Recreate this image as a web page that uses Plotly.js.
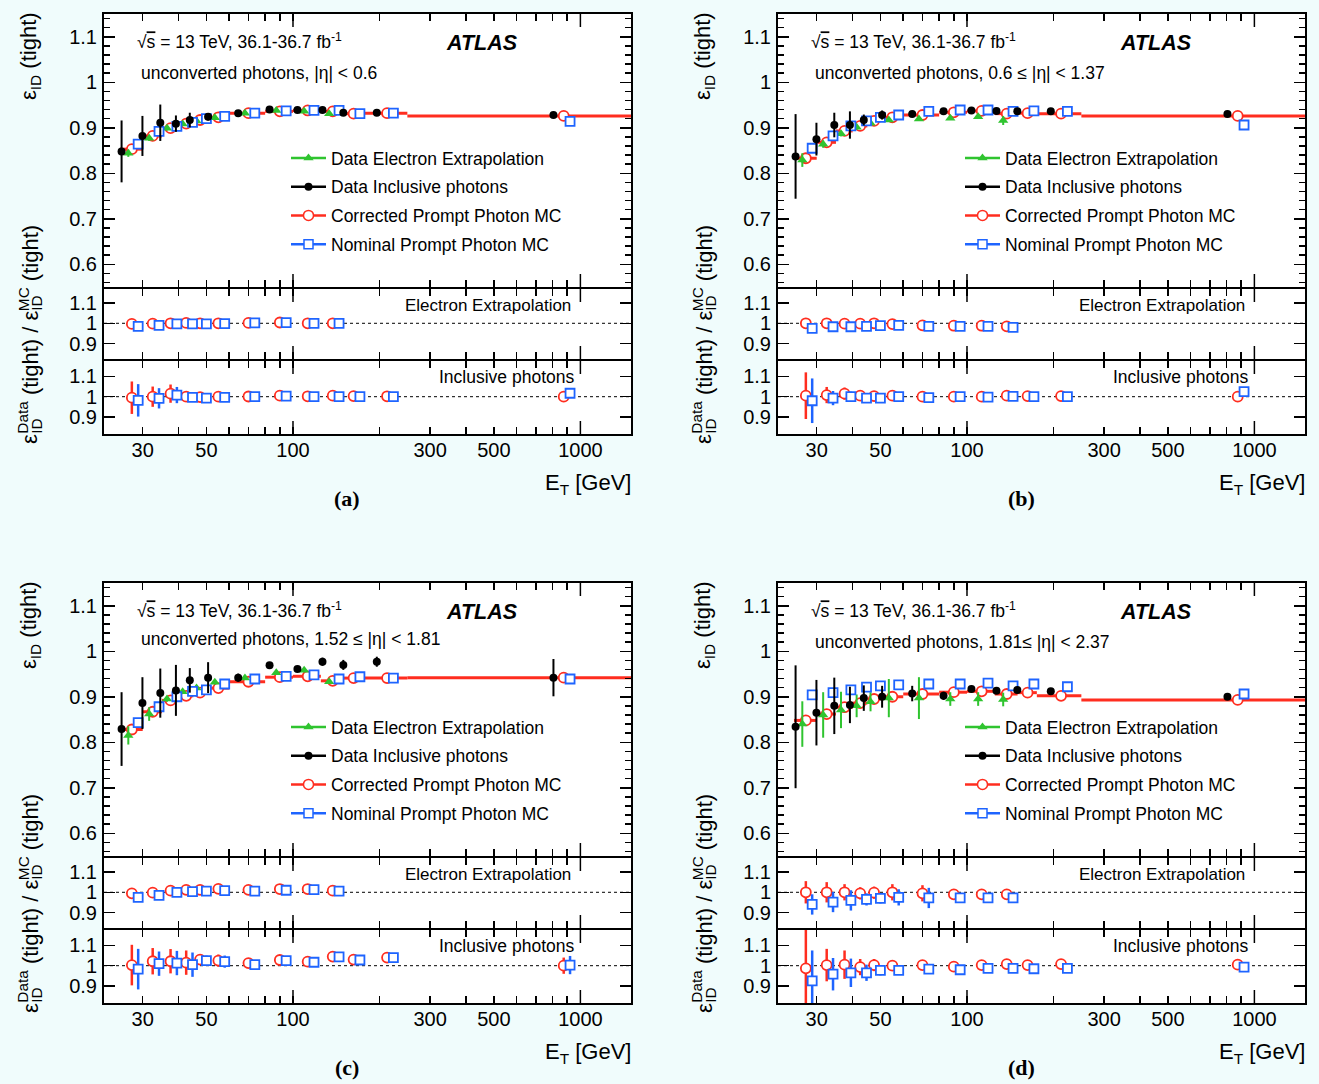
<!DOCTYPE html>
<html><head><meta charset="utf-8">
<script src="https://cdn.plot.ly/plotly-3.0.1.min.js"></script>
<style>html,body{margin:0;padding:0;background:#f0fcfc;} #chart{width:1319px;height:1084px;}</style>
</head><body><div id="chart"></div>
<script>
// ---------------- data ----------------
const binEdges = [25,30,35,40,45,50,60,80,100,125,150,175,250,1500];
const panelTags = ['(a)','(b)','(c)','(d)'];
const regionText = ['unconverted photons, |η| < 0.6','unconverted photons, 0.6 ≤ |η| < 1.37','unconverted photons, 1.52 ≤ |η| < 1.81','unconverted photons, 1.81≤ |η| < 2.37'];
const seriesNames = ['Data Electron Extrapolation','Data Inclusive photons','Corrected Prompt Photon MC','Nominal Prompt Photon MC'];
const xTickVals = [30,50,100,300,500,1000];
const xTickText = ['30','50','100','300','500','1000'];
const xMinorVals = [40,60,70,80,90,200,400,600,700,800,900];
const mainTickVals = [0.6,0.7,0.8,0.9,1.0,1.1];
const mainTickText = ['0.6','0.7','0.8','0.9','1','1.1'];
const ratioTickVals = [0.9,1.0,1.1];
const ratioTickText = ['0.9','1','1.1'];

// panel (a)
const aEle = [0.844,0.877,0.899,0.908,0.915,0.922,0.932,0.938,0.936,0.931];
const aEleErr = [0.008,0.006,0.005,0.004,0.004,0.003,0.003,0.003,0.003,0.003];
const aIncl = [0.848,0.882,0.911,0.909,0.917,0.924,0.932,0.940,0.939,0.939,0.933,0.933,0.928];
const aInclErr = [0.068,0.044,0.040,0.018,0.016,0.008,0.004,0.004,0.003,0.003,0.003,0.003,0.003];
const aCorr = [0.853,0.882,0.899,0.909,0.917,0.923,0.932,0.936,0.938,0.936,0.931,0.932,0.926];
const aNom = [0.864,0.892,0.903,0.912,0.920,0.925,0.932,0.937,0.938,0.938,0.931,0.932,0.914];
const aEleRatioCorr = [0.997,0.998,1.000,1.002,1.000,1.000,1.002,1.004,1.000,1.000];
const aEleRatioCorrErr = [0.008,0.007,0.006,0.006,0.005,0.005,0.005,0.005,0.005,0.005];
const aEleRatioNom = [0.985,0.990,0.997,0.997,0.997,0.998,1.002,1.003,1.000,1.000];
const aEleRatioNomErr = [0.009,0.008,0.007,0.006,0.006,0.005,0.005,0.005,0.005,0.005];
const aInclRatioCorr = [0.995,1.000,1.015,1.000,0.998,1.000,1.001,1.005,1.002,1.005,1.003,1.002,1.000];
const aInclRatioCorrErr = [0.080,0.050,0.045,0.020,0.018,0.010,0.005,0.005,0.004,0.004,0.004,0.004,0.004];
const aInclRatioNom = [0.982,0.992,1.008,0.997,0.993,0.997,1.000,1.003,1.000,1.000,1.000,1.000,1.017];
const aInclRatioNomErr = [0.080,0.050,0.040,0.020,0.018,0.010,0.005,0.005,0.004,0.004,0.004,0.004,0.004];

// panel (b)
const bEle = [0.829,0.864,0.887,0.901,0.910,0.917,0.919,0.921,0.924,0.916];
const bEleErr = [0.015,0.008,0.006,0.005,0.004,0.004,0.004,0.004,0.004,0.010];
const bIncl = [0.837,0.875,0.906,0.906,0.917,0.928,0.930,0.936,0.938,0.937,0.936,0.936,0.930];
const bInclErr = [0.093,0.036,0.027,0.030,0.012,0.010,0.004,0.003,0.003,0.003,0.003,0.003,0.003];
const bCorr = [0.833,0.868,0.893,0.904,0.915,0.923,0.928,0.934,0.937,0.931,0.932,0.931,0.926];
const bNom = [0.855,0.882,0.904,0.915,0.923,0.928,0.936,0.939,0.939,0.936,0.937,0.936,0.906];
const bEleRatioCorr = [1.000,1.000,0.998,0.998,1.000,0.996,0.990,0.988,0.988,0.985];
const bEleRatioCorrErr = [0.008,0.007,0.006,0.006,0.005,0.005,0.005,0.005,0.005,0.005];
const bEleRatioNom = [0.975,0.983,0.983,0.985,0.988,0.990,0.985,0.985,0.985,0.980];
const bEleRatioNomErr = [0.010,0.009,0.008,0.007,0.006,0.006,0.006,0.006,0.006,0.006];
const bInclRatioCorr = [1.005,1.008,1.015,1.005,1.003,1.005,1.000,1.000,1.000,1.005,1.003,1.003,1.000];
const bInclRatioCorrErr = [0.115,0.040,0.030,0.025,0.012,0.010,0.004,0.004,0.004,0.004,0.004,0.004,0.004];
const bInclRatioNom = [0.980,0.993,1.000,0.993,0.993,1.000,0.995,1.000,0.998,1.002,1.000,1.000,1.025];
const bInclRatioNomErr = [0.110,0.035,0.025,0.020,0.012,0.010,0.004,0.004,0.004,0.004,0.004,0.004,0.004];

// panel (c)
const cEle = [0.815,0.862,0.895,0.911,0.919,0.932,0.941,0.953,0.958,0.933];
const cEleErr = [0.020,0.015,0.006,0.005,0.005,0.005,0.004,0.004,0.004,0.004];
const cIncl = [0.829,0.886,0.908,0.914,0.936,0.942,0.942,0.969,0.961,0.977,0.970,0.977,0.942];
const cInclErr = [0.081,0.057,0.054,0.056,0.027,0.034,0.009,0.006,0.006,0.009,0.011,0.011,0.041];
const cCorr = [0.828,0.867,0.892,0.902,0.909,0.919,0.933,0.943,0.945,0.935,0.941,0.941,0.942];
const cNom = [0.843,0.878,0.900,0.912,0.915,0.928,0.939,0.945,0.948,0.939,0.944,0.941,0.939];
const cEleRatioCorr = [0.995,0.998,1.008,1.012,1.012,1.017,1.012,1.016,1.016,1.008];
const cEleRatioCorrErr = [0.010,0.009,0.008,0.007,0.007,0.007,0.006,0.006,0.006,0.006];
const cEleRatioNom = [0.975,0.985,1.000,1.003,1.006,1.008,1.006,1.010,1.013,1.006];
const cEleRatioNomErr = [0.012,0.010,0.009,0.008,0.008,0.008,0.007,0.007,0.007,0.007];
const cInclRatioCorr = [1.003,1.022,1.022,1.015,1.030,1.025,1.013,1.028,1.020,1.045,1.030,1.040,1.000];
const cInclRatioCorrErr = [0.100,0.065,0.060,0.060,0.020,0.030,0.008,0.006,0.006,0.008,0.010,0.012,0.040];
const cInclRatioNom = [0.983,1.010,1.013,1.005,1.025,1.020,1.005,1.025,1.017,1.043,1.028,1.040,1.003];
const cInclRatioNomErr = [0.100,0.060,0.060,0.060,0.025,0.030,0.008,0.008,0.008,0.010,0.012,0.015,0.045];

// panel (d)
const dEle = [0.840,0.860,0.871,0.880,0.889,0.897,0.897,0.895,0.895,0.894];
const dEleErr = [0.050,0.050,0.040,0.025,0.021,0.042,0.046,0.015,0.015,0.015];
const dIncl = [0.834,0.865,0.880,0.882,0.897,0.900,0.907,0.902,0.917,0.913,0.915,0.912,0.900];
const dInclErr = [0.135,0.072,0.062,0.040,0.028,0.024,0.017,0.009,0.005,0.005,0.005,0.004,0.004];
const dCorr = [0.848,0.862,0.877,0.886,0.895,0.900,0.906,0.910,0.912,0.906,0.909,0.902,0.893];
const dNom = [0.904,0.909,0.915,0.921,0.924,0.926,0.928,0.928,0.930,0.924,0.928,0.922,0.906];
const dEleRatioCorr = [1.000,1.000,1.000,0.995,0.998,1.000,0.995,0.990,0.990,0.990];
const dEleRatioCorrErr = [0.055,0.050,0.040,0.030,0.030,0.040,0.040,0.012,0.012,0.012];
const dEleRatioNom = [0.940,0.952,0.960,0.965,0.970,0.975,0.972,0.972,0.972,0.972];
const dEleRatioNomErr = [0.050,0.050,0.050,0.030,0.025,0.040,0.050,0.012,0.015,0.012];
const dInclRatioCorr = [0.987,1.003,1.005,0.993,1.003,1.000,1.003,0.995,1.003,1.008,1.003,1.008,1.005];
const dInclRatioCorrErr = [0.190,0.080,0.070,0.040,0.030,0.025,0.006,0.006,0.006,0.006,0.006,0.006,0.006];
const dInclRatioNom = [0.925,0.958,0.965,0.965,0.977,0.977,0.983,0.980,0.987,0.987,0.985,0.987,0.993];
const dInclRatioNomErr = [0.150,0.080,0.070,0.040,0.025,0.020,0.006,0.006,0.006,0.006,0.006,0.006,0.006];

const panels = [
  {ele:aEle, eleErr:aEleErr, incl:aIncl, inclErr:aInclErr, corr:aCorr, nom:aNom,
   rEC:aEleRatioCorr, rECe:aEleRatioCorrErr, rEN:aEleRatioNom, rENe:aEleRatioNomErr,
   rIC:aInclRatioCorr, rICe:aInclRatioCorrErr, rIN:aInclRatioNom, rINe:aInclRatioNomErr},
  {ele:bEle, eleErr:bEleErr, incl:bIncl, inclErr:bInclErr, corr:bCorr, nom:bNom,
   rEC:bEleRatioCorr, rECe:bEleRatioCorrErr, rEN:bEleRatioNom, rENe:bEleRatioNomErr,
   rIC:bInclRatioCorr, rICe:bInclRatioCorrErr, rIN:bInclRatioNom, rINe:bInclRatioNomErr},
  {ele:cEle, eleErr:cEleErr, incl:cIncl, inclErr:cInclErr, corr:cCorr, nom:cNom,
   rEC:cEleRatioCorr, rECe:cEleRatioCorrErr, rEN:cEleRatioNom, rENe:cEleRatioNomErr,
   rIC:cInclRatioCorr, rICe:cInclRatioCorrErr, rIN:cInclRatioNom, rINe:cInclRatioNomErr},
  {ele:dEle, eleErr:dEleErr, incl:dIncl, inclErr:dInclErr, corr:dCorr, nom:dNom,
   rEC:dEleRatioCorr, rECe:dEleRatioCorrErr, rEN:dEleRatioNom, rENe:dEleRatioNomErr,
   rIC:dInclRatioCorr, rICe:dInclRatioCorrErr, rIN:dInclRatioNom, rINe:dInclRatioNomErr}
];

// ---------------- style / geometry ----------------
const W = 1319, H = 1084;
const BG = '#f0fcfc';
const FONT = 'Liberation Sans, Arial, Helvetica, sans-serif';
const GREEN = '#2fc42f', BLACK = '#000000', RED = '#ff2d1f', BLUE = '#1e64ff';
const shiftEle = 0.972, shiftIncl = 0.921, shiftNom = 1.052;   // horizontal display offsets
const colL = [104, 778], colR = [631, 1305];
const rowFrames = [
  [[14,287],[289,359],[361,434]],
  [[583,856],[858,928],[930,1003]]
];
const yRanges = [[0.55,1.15],[0.824,1.169],[0.816,1.176]];

const centers = binEdges.slice(0,-1).map((lo,i)=>(lo+binEdges[i+1])/2);
const errPlus = centers.map((c,i)=>binEdges[i+1]-c);
const errMinus = centers.map((c,i)=>c-binEdges[i]);
const nEle = aEle.length;
const cEleX = centers.slice(0,nEle);

const px = x => x / W;
const py = y => 1 - y / H;
const cnv = document.createElement('canvas').getContext('2d');
function tw(t, size){ cnv.font = size + 'px "Liberation Sans"'; return cnv.measureText(t).width; }

const traces = [];
const layout = {
  width: W, height: H, margin:{l:0,r:0,t:0,b:0},
  paper_bgcolor: BG, plot_bgcolor: '#ffffff',
  font:{family:FONT, color:'#000'},
  showlegend: true, annotations: [], shapes: []
};

function ann(o){ layout.annotations.push(Object.assign({xref:'paper', yref:'paper', showarrow:false, borderpad:0}, o)); }

function ratioTitle(cx, bottom){
  const S = 22, s = 15.4;
  let y = bottom;
  const put = (t, size, xoff) => ann({text:t, textangle:-90, x:px(cx+xoff), y:py(y), xanchor:'center', yanchor:'bottom', font:{family:FONT, size:size, color:'#000'}});
  const main = t => { put(t, S, 0); y -= tw(t, S); };
  const stack = (sup, sub) => { put(sup, s, -7); put(sub, s, 7); y -= Math.max(tw(sup, s), tw(sub, s)); };
  const space = () => { y -= tw(' ', S) * 1.0; };
  main('ε'); stack('Data','ID'); space(); main('(tight) / ε'); stack('MC','ID'); space(); main('(tight)');
}

for (let p = 0; p < 4; p++) {
  const P = panels[p];
  const col = p % 2, row = Math.floor(p / 2);
  const dx = colL[col] - colL[0];
  const dy = row * 569;
  const legName = p === 0 ? 'legend' : 'legend' + (p + 1);
  const ax = [];
  for (let s = 0; s < 3; s++) {
    const k = p * 3 + s + 1;
    const suf = k === 1 ? '' : String(k);
    const xa = 'x' + suf, ya = 'y' + suf;
    ax.push({xa, ya});
    const [top, bot] = rowFrames[row][s];
    const hpx = bot - top;
    layout['xaxis' + suf] = {
      domain:[px(colL[col]), px(colR[col])], anchor: ya, type:'log',
      range:[Math.log10(22), Math.log10(1500)],
      tickmode:'array', tickvals:xTickVals, ticktext:xTickText,
      showticklabels: s === 2, ticks:'inside', ticklen:7, tickwidth:1.5, tickcolor:'#000',
      minor:{tickmode:'array', tickvals:xMinorVals, ticks:'inside', ticklen:7, tickwidth:1.5, tickcolor:'#000', showgrid:false},
      showline:true, linewidth:2, linecolor:'#000', mirror:'ticks',
      showgrid:false, zeroline:false, fixedrange:true,
      tickfont:{family:FONT, size:20, color:'#000'}, ticklabelstandoff: -3
    };
    const yax = {
      domain:[py(bot), py(top)], anchor: xa, range: yRanges[s],
      tickmode:'array',
      tickvals: s === 0 ? mainTickVals : ratioTickVals,
      ticktext: s === 0 ? mainTickText : ratioTickText,
      ticks:'inside', ticklen:11, tickwidth:1.5, tickcolor:'#000',
      showline:true, linewidth:2, linecolor:'#000', mirror:'ticks',
      showgrid:false, zeroline:false, fixedrange:true,
      tickfont:{family:FONT, size:20, color:'#000'}, ticklabelstandoff: 1
    };
    if (s === 0) yax.minor = {dtick:0.02, tick0:0, ticks:'inside', ticklen:6, tickwidth:1.5, tickcolor:'#000', showgrid:false};
    layout['yaxis' + suf] = yax;
    // long ticks at decades
    [100, 1000].forEach(v => {
      layout.shapes.push({type:'line', xref:xa, yref:ya + ' domain', x0:v, x1:v, y0:0, y1:13/hpx, line:{color:'#000', width:1.5}});
      layout.shapes.push({type:'line', xref:xa, yref:ya + ' domain', x0:v, x1:v, y0:1, y1:1-13/hpx, line:{color:'#000', width:1.5}});
    });
    if (s > 0) layout.shapes.push({type:'line', layer:'below', xref:xa + ' domain', yref:ya, x0:0, x1:1, y0:1, y1:1, line:{color:'#000', width:1, dash:'3px,3px'}});
  }
  const M = ax[0], R1 = ax[1], R2 = ax[2];

  // main panel
  traces.push({type:'scatter', mode:'markers', xaxis:M.xa, yaxis:M.ya, showlegend:false, hoverinfo:'skip',
    x:centers, y:P.corr,
    error_x:{type:'data', symmetric:false, array:errPlus, arrayminus:errMinus, color:RED, thickness:3, width:0},
    marker:{symbol:'circle', size:10, color:'#fff', line:{color:RED, width:1.8}}});
  traces.push({type:'scatter', mode:'markers', xaxis:M.xa, yaxis:M.ya, showlegend:false, hoverinfo:'skip',
    x:cEleX.map(c=>c*shiftEle), y:P.ele,
    error_y:{type:'data', array:P.eleErr, color:GREEN, thickness:2, width:0},
    marker:{symbol:'triangle-up', size:9, color:GREEN}});
  traces.push({type:'scatter', mode:'markers', xaxis:M.xa, yaxis:M.ya, showlegend:false, hoverinfo:'skip',
    x:centers.map(c=>c*shiftNom), y:P.nom,
    marker:{symbol:'square', size:9, color:'#fff', line:{color:BLUE, width:1.8}}});
  traces.push({type:'scatter', mode:'markers', xaxis:M.xa, yaxis:M.ya, showlegend:false, hoverinfo:'skip',
    x:centers.map(c=>c*shiftIncl), y:P.incl,
    error_y:{type:'data', array:P.inclErr, color:BLACK, thickness:2, width:0},
    marker:{symbol:'circle', size:8, color:BLACK}});

  // legend entries
  const legStyles = [
    {line:{color:GREEN, width:2.5}, marker:{symbol:'triangle-up', size:9, color:GREEN}},
    {line:{color:BLACK, width:2.5}, marker:{symbol:'circle', size:8, color:BLACK}},
    {line:{color:RED, width:2.5}, marker:{symbol:'circle', size:10, color:'#fff', line:{color:RED, width:1.5}}},
    {line:{color:BLUE, width:2.5}, marker:{symbol:'square', size:9, color:'#fff', line:{color:BLUE, width:1.5}}}
  ];
  seriesNames.forEach((nm, i) => {
    traces.push(Object.assign({type:'scatter', mode:'lines+markers', xaxis:M.xa, yaxis:M.ya, x:[null], y:[null],
      name:nm, legend:legName, legendgroup:'g' + p + '_' + i, showlegend:true, hoverinfo:'skip'}, legStyles[i]));
  });

  // ratio: electron extrapolation
  traces.push({type:'scatter', mode:'markers', xaxis:R1.xa, yaxis:R1.ya, showlegend:false, hoverinfo:'skip',
    x:cEleX, y:P.rEC, error_y:{type:'data', array:P.rECe, color:RED, thickness:2.5, width:0},
    marker:{symbol:'circle', size:10, color:'#fff', line:{color:RED, width:1.8}}});
  traces.push({type:'scatter', mode:'markers', xaxis:R1.xa, yaxis:R1.ya, showlegend:false, hoverinfo:'skip',
    x:cEleX.map(c=>c*shiftNom), y:P.rEN, error_y:{type:'data', array:P.rENe, color:BLUE, thickness:2.5, width:0},
    marker:{symbol:'square', size:9, color:'#fff', line:{color:BLUE, width:1.8}}});
  // ratio: inclusive photons
  traces.push({type:'scatter', mode:'markers', xaxis:R2.xa, yaxis:R2.ya, showlegend:false, hoverinfo:'skip',
    x:centers, y:P.rIC, error_y:{type:'data', array:P.rICe, color:RED, thickness:2.5, width:0},
    marker:{symbol:'circle', size:10, color:'#fff', line:{color:RED, width:1.8}}});
  traces.push({type:'scatter', mode:'markers', xaxis:R2.xa, yaxis:R2.ya, showlegend:false, hoverinfo:'skip',
    x:centers.map(c=>c*shiftNom), y:P.rIN, error_y:{type:'data', array:P.rINe, color:BLUE, thickness:2.5, width:0},
    marker:{symbol:'square', size:9, color:'#fff', line:{color:BLUE, width:1.8}}});

  layout[legName] = {x:px(286 + dx), y:py(140 + dy), xanchor:'left', yanchor:'top',
    bgcolor:'rgba(0,0,0,0)', borderwidth:0, traceorder:'grouped', tracegroupgap:3, itemwidth:35,
    font:{family:FONT, size:17.5, color:'#000'}, itemclick:false, itemdoubleclick:false};

  // texts
  const regY = [73, 73, 639, 642][p];
  ann({text:'√<span style="text-decoration:overline">s</span> = 13 TeV, 36.1-36.7 fb<sup>-1</sup>', x:px(136+dx), y:py(41+dy), xanchor:'left', yanchor:'middle', font:{family:FONT, size:17.5, color:'#000'}});
  ann({text:'<b><i>ATLAS</i></b>', x:px(445+dx), y:py(43+dy), xanchor:'left', yanchor:'middle', font:{family:FONT, size:21.5, color:'#000'}});
  ann({text:regionText[p], x:px(140+dx), y:py(regY), xanchor:'left', yanchor:'middle', font:{family:FONT, size:17.5, color:'#000'}});
  ann({text:'Electron Extrapolation', x:px(572+dx), y:py(305+dy), xanchor:'right', yanchor:'middle', font:{family:FONT, size:17, color:'#000'}});
  ann({text:'Inclusive photons', x:px(575+dx), y:py(377+dy), xanchor:'right', yanchor:'middle', font:{family:FONT, size:17.5, color:'#000'}});
  ann({text:'E<sub>T</sub> [GeV]', x:px(632+dx), y:py(484+dy), xanchor:'right', yanchor:'middle', font:{family:FONT, size:22, color:'#000'}});
  ann({text:'<b>' + panelTags[p] + '</b>', x:px(347+dx), y:py(498+dy), xanchor:'center', yanchor:'middle', font:{family:'Liberation Serif, Times New Roman, serif', size:22, color:'#000'}});
  ann({text:'ε<sub>ID</sub> (tight)', textangle:-90, x:px(30+dx), y:py(56+dy), xanchor:'center', yanchor:'middle', font:{family:FONT, size:22, color:'#000'}});
  ratioTitle(30 + dx, 445 + dy);
}

Plotly.newPlot('chart', traces, layout, {staticPlot:true, displayModeBar:false});
</script>
</body></html>
